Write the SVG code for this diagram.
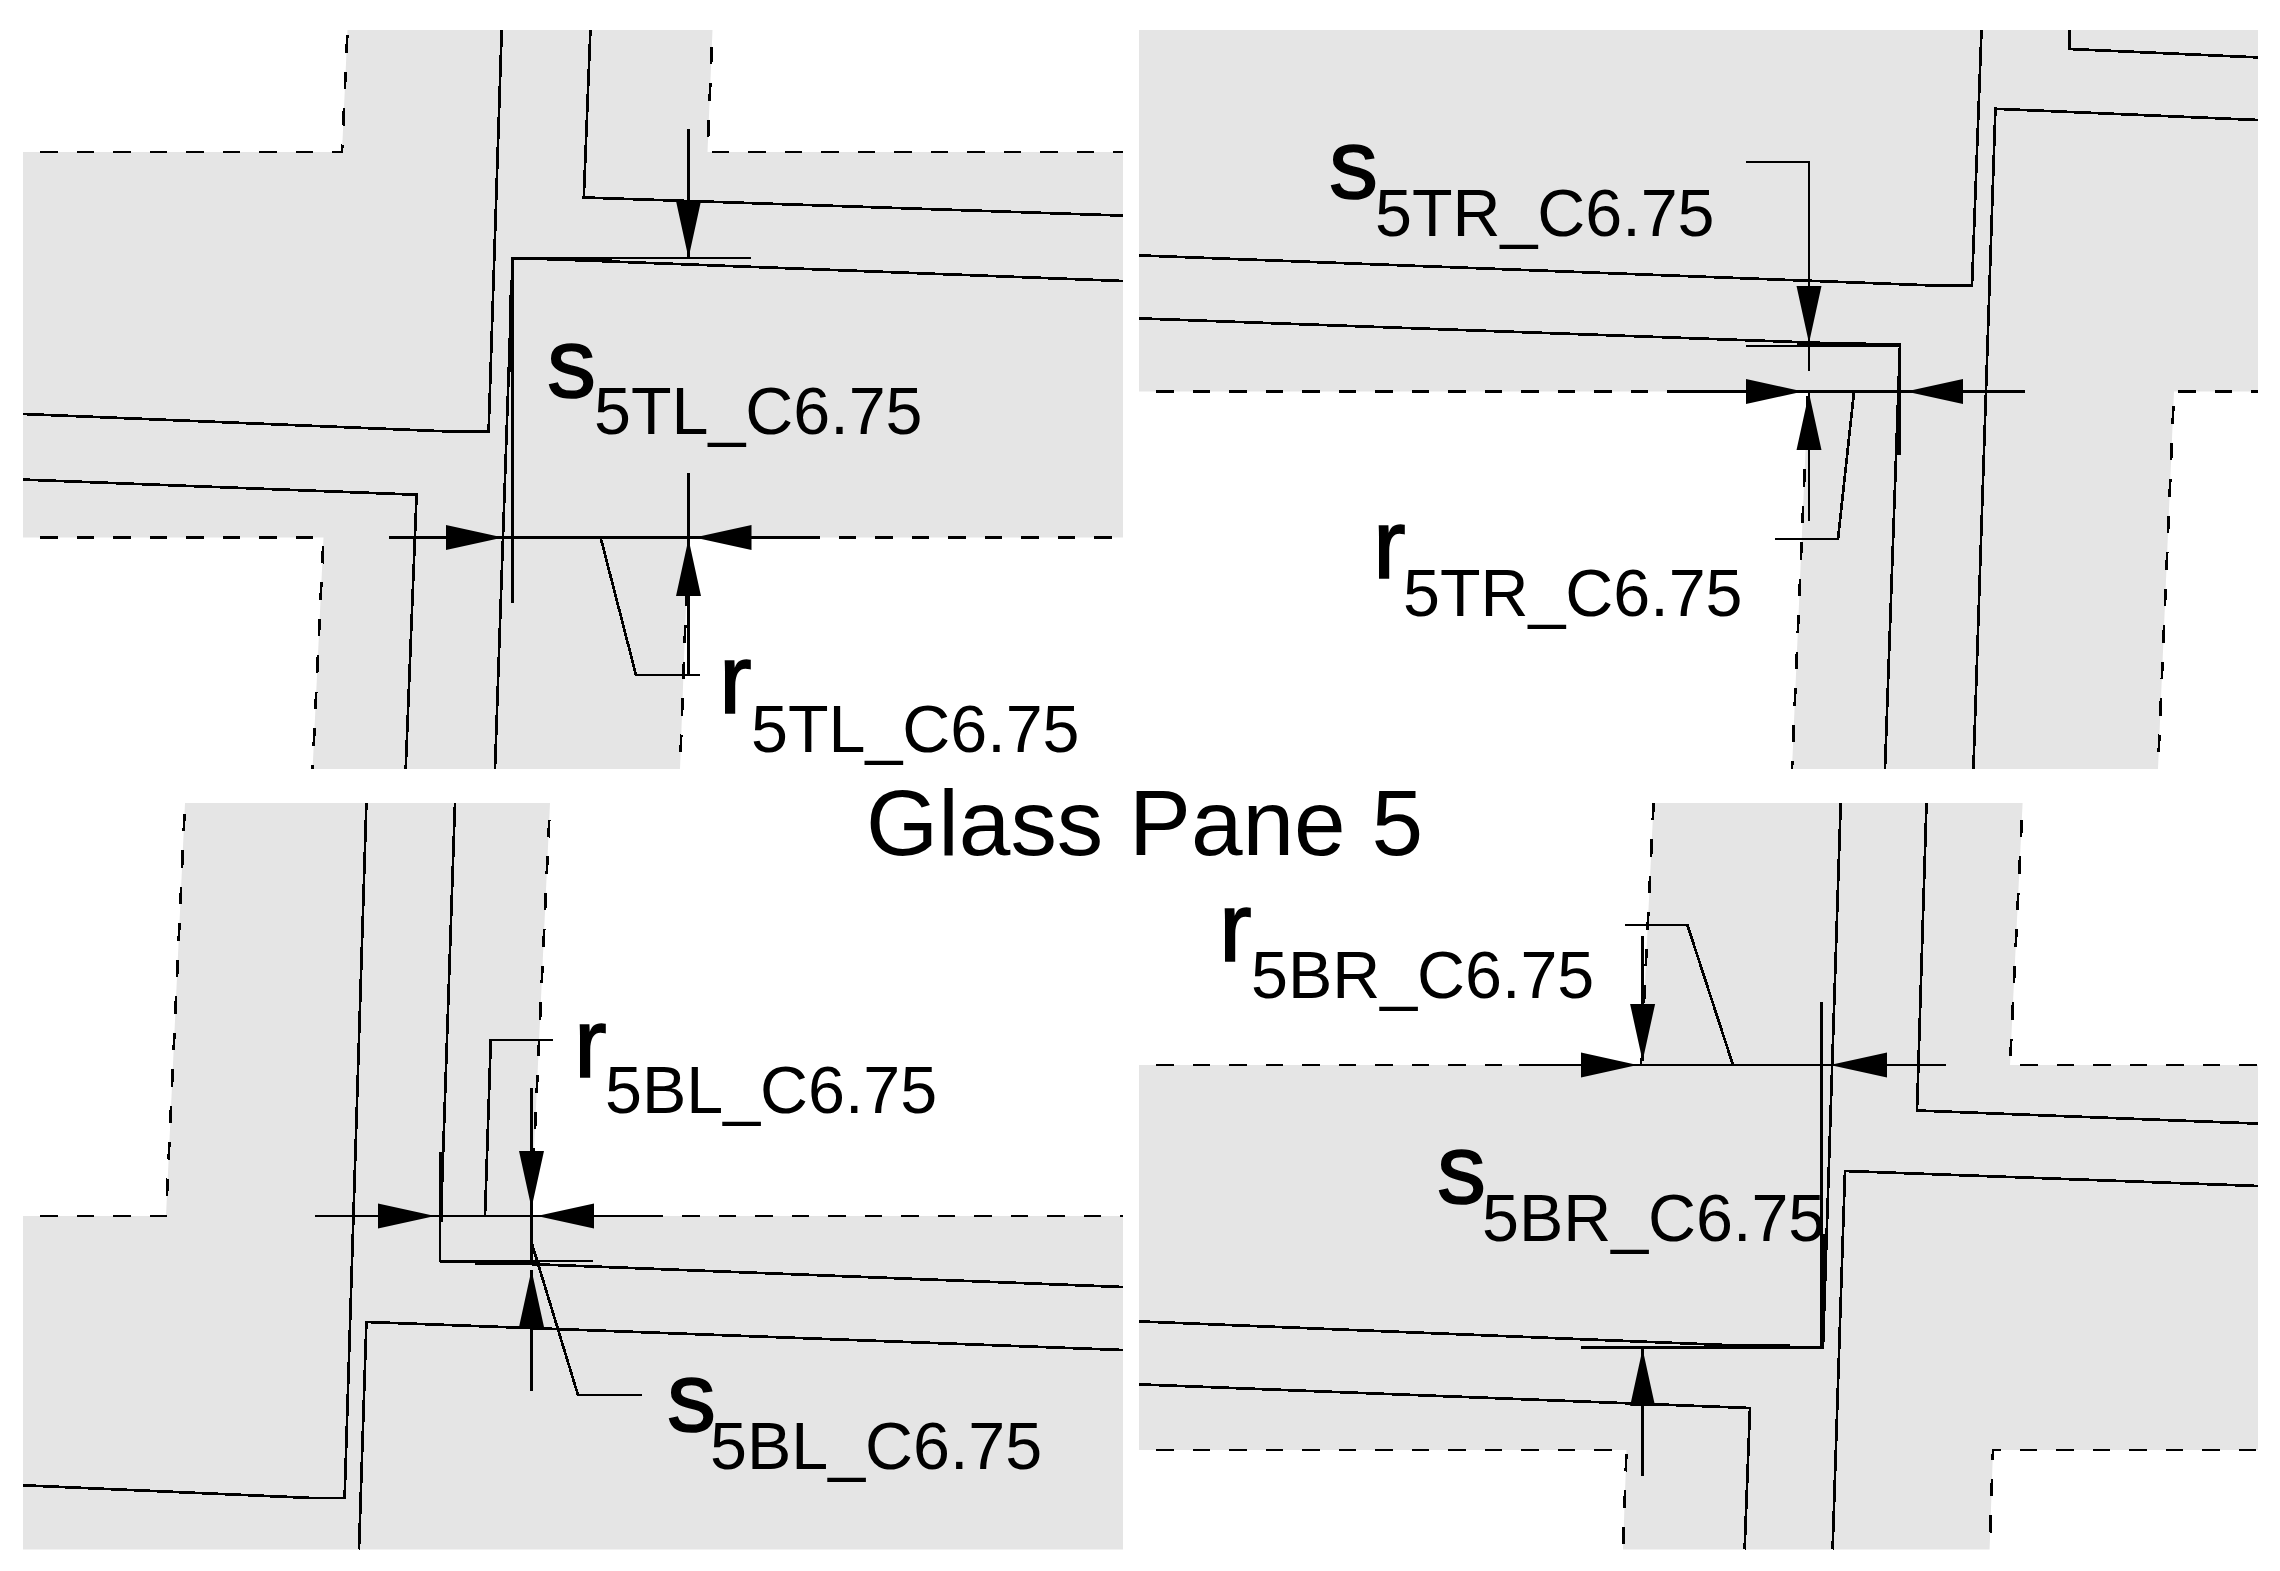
<svg xmlns="http://www.w3.org/2000/svg" width="2280" height="1571" viewBox="0 0 2280 1571">
<style>
.g{fill:#e5e5e5;stroke:none}
.d{fill:none;stroke:#000;stroke-width:2.7;stroke-dasharray:17.5 19;stroke-dashoffset:19.5;shape-rendering:crispEdges}
.l{fill:none;stroke:#000;stroke-width:2.7;stroke-linejoin:miter;shape-rendering:crispEdges}
.t{fill:none;stroke:#000;stroke-width:4.6;shape-rendering:crispEdges}
.a{fill:none;stroke:#000;stroke-width:2.7;marker-end:url(#ah);shape-rendering:crispEdges}
.b{font-family:"Liberation Sans",Arial,sans-serif;font-size:98px;fill:#000;stroke:#000;stroke-width:1.6}
.s{font-family:"Liberation Sans",Arial,sans-serif;font-size:66.4px;fill:#000}
.h{font-family:"Liberation Sans",Arial,sans-serif;font-size:92.8px;fill:#000}
</style>
<defs>
<marker id="ah" markerUnits="userSpaceOnUse" markerWidth="58" markerHeight="26" refX="57" refY="13" orient="auto"><path d="M0 0.5L57 13L0 25.5Z" fill="#000"/></marker>
</defs>
<rect width="2280" height="1571" fill="#fff"/>

<g id="detail-TL">
<path class="g" d="M347.5 30H712.5L707.5 152H1123V537.5H688.5L680 769H312.6L323.5 537.5H23V152H342Z"/>
<path class="d" d="M23 152H342L347.5 30M712.5 30L707.5 152H1123M23 537.5H323.5L312.6 769M680 769L688.5 537.5H1123"/>
<path class="l" d="M501.7 30L488.6 431.7H455L23 414"/>
<path class="l" d="M590.4 30L583.8 197.5L1123 215.6"/>
<path class="l" d="M1123 281L545 259H512.6L495 769"/>
<path class="l" d="M751 258H512.6V603"/>
<path class="t" d="M547 259H612M511 295V372"/>
<path class="l" d="M23 479.6L416.6 494.7L405.7 769"/>
<path class="l" d="M751 537.5H814M503 537.5H694.5"/>
<path class="a" d="M389 537.5H503"/>
<path class="a" d="M820 537.5H694.5"/>
<path class="a" d="M688.5 128.5V258"/>
<path class="a" d="M688.5 675V539"/>
<path class="l" d="M688.5 473V537"/>
<path class="l" d="M600.6 537.5L636 675H699.5"/>
<text class="b" x="547" y="397">s</text><text class="s" x="594" y="434">5TL_C6.75</text>
<text class="b" x="719" y="713">r</text><text class="s" x="751" y="752">5TL_C6.75</text>
</g>

<g id="detail-TR">
<path class="g" d="M1139 30H2258V391.5H2174L2158 769H1792L1808 391.5H1139Z"/>
<path class="d" d="M1139 391.5H1808L1792 769M2158 769L2174 391.5H2258"/>
<path class="l" d="M1981.5 30L1972 285.6H1937L1139 255.4"/>
<path class="l" d="M2069.5 30V49L2258 57.4"/>
<path class="l" d="M2258 120L1995.4 108.8L1973.4 769"/>
<path class="l" d="M1139 318.4L1866 344.5H1900L1885 769"/>
<path class="l" d="M1746 346H1900V382"/>
<path class="t" d="M1797 344H1866M1899 380V455"/>
<path class="l" d="M1684 391.5H1746M1803 391.5H1906"/>
<path class="a" d="M1700 391.5H1803"/>
<path class="a" d="M2025 391.5H1906"/>
<path class="a" d="M1746 162H1809V343"/>
<path class="l" d="M1809 343V371"/>
<path class="a" d="M1809 521V393"/>
<path class="l" d="M1854 392L1838 539H1775"/>
<text class="b" x="1329" y="198">s</text><text class="s" x="1375" y="236">5TR_C6.75</text>
<text class="b" x="1373" y="578">r</text><text class="s" x="1403" y="616">5TR_C6.75</text>
</g>

<g id="detail-BL">
<path class="g" d="M185 803H550L531 1216H1123V1549.5H23V1216H166Z"/>
<path class="d" d="M23 1216H166L185 803M550 803L531 1216H1123"/>
<path class="l" d="M366.4 803L344.6 1498H312.6L23 1485.3"/>
<path class="l" d="M455 803L441 1216"/>
<path class="l" d="M593 1261H440V1216"/>
<path class="l" d="M440 1262H476L1123 1287"/>
<path class="t" d="M475 1263H540M441 1152V1222"/>
<path class="l" d="M1123 1350L366.4 1322L359 1549.5"/>
<path class="l" d="M435 1216H537M594 1216H653"/>
<path class="a" d="M315 1216H435"/>
<path class="a" d="M653 1216H537"/>
<path class="l" d="M552.6 1040H490.8L485 1216"/>
<path class="a" d="M531.5 1088V1208"/>
<path class="l" d="M531.5 1208V1262"/>
<path class="a" d="M531.5 1391V1270"/>
<path class="l" d="M531.7 1243L578 1395H641.7"/>
<text class="b" x="667" y="1431">s</text><text class="s" x="710" y="1469">5BL_C6.75</text>
<text class="b" x="574" y="1077">r</text><text class="s" x="605" y="1113">5BL_C6.75</text>
</g>

<g id="detail-BR">
<path class="g" d="M1653.6 803H2022.6L2010 1065H2258V1450H1993L1989.6 1549.5H1623L1626.5 1450H1139V1065H1641Z"/>
<path class="d" d="M1139 1065H1641L1653.6 803M2022.6 803L2010 1065H2258M1139 1450H1626.5L1623 1549.5M1989.6 1549.5L1993 1450H2258"/>
<path class="l" d="M1840.7 803L1823 1347.6H1790L1139 1321.4"/>
<path class="l" d="M1581 1347.6H1821.6V1002"/>
<path class="t" d="M1731 1346H1790M1823 1234V1312"/>
<path class="l" d="M2258 1186L1845 1171L1832.6 1549.5"/>
<path class="l" d="M1926.5 803L1917 1110.5L2258 1123.6"/>
<path class="l" d="M1139 1384.4L1750 1408L1744.6 1549.5"/>
<path class="l" d="M1519 1065H1581M1637.5 1065H1830"/>
<path class="a" d="M1530 1065H1637.5"/>
<path class="a" d="M1946 1065H1830"/>
<path class="l" d="M1625 925H1687.4L1733 1065"/>
<path class="a" d="M1642.6 936V1061"/>
<path class="a" d="M1642.6 1476V1349"/>
<text class="b" x="1219" y="961">r</text><text class="s" x="1251" y="998">5BR_C6.75</text>
<text class="b" x="1437" y="1203">s</text><text class="s" x="1482" y="1241">5BR_C6.75</text>
</g>

<text id="title" class="h" x="866" y="855">Glass Pane 5</text>
</svg>
